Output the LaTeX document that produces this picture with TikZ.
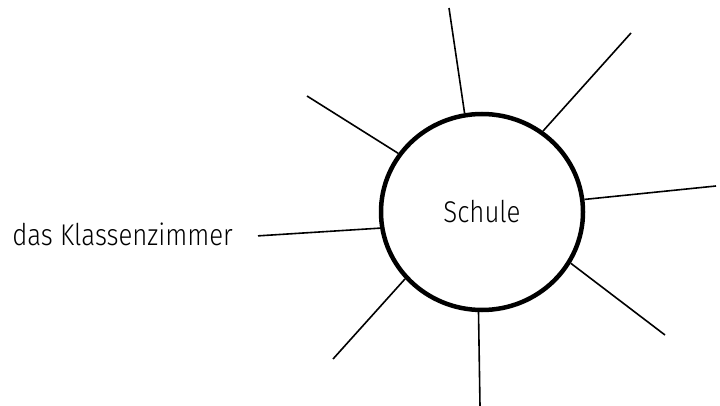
\documentclass[tikz,border=0pt]{standalone}
\usepackage{fontspec}
\setmainfont{Fira Sans Light}[FakeStretch=0.86]
\usetikzlibrary{shapes.geometric}

\begin{document}
\begin{tikzpicture}[x=1pt,y=-1pt]
\useasboundingbox (0,0) rectangle (720,406);
\node[ellipse,draw,line width=4.5pt,minimum width=202pt,minimum height=196pt,inner sep=0pt,font=\fontsize{30}{36}\selectfont] (schule) at (482,212) {Schule};
\node[anchor=base east,inner sep=0pt,font=\fontsize{30}{36}\selectfont] (klassenzimmer) at (233,245) {das Klassenzimmer};

% freie Enden der Strahlen
\coordinate (oben) at (449,8);
\coordinate (obenrechts) at (631,33);
\coordinate (obenlinks) at (307,96);
\coordinate (rechts) at (716,186);
\coordinate (untenrechts) at (665,335);
\coordinate (unten) at (480,406);
\coordinate (untenlinks) at (333,359);

\draw[line width=1.6pt] (schule.100.7) -- (oben);
\draw[line width=1.6pt] (schule.53.8) -- (obenrechts);
\draw[line width=1.6pt] (schule.145.2) -- (obenlinks);
\draw[line width=1.6pt] (schule.7.2) -- (rechts);
\draw[line width=1.6pt] (schule.-30.6) -- (untenrechts);
\draw[line width=1.6pt] (schule.-92.3) -- (unten);
\draw[line width=1.6pt] (schule.-139.8) -- (untenlinks);
\draw[line width=1.6pt] (schule.-171.2) -- ([xshift=25pt,yshift=-2pt]klassenzimmer.east);
\end{tikzpicture}
\end{document}
